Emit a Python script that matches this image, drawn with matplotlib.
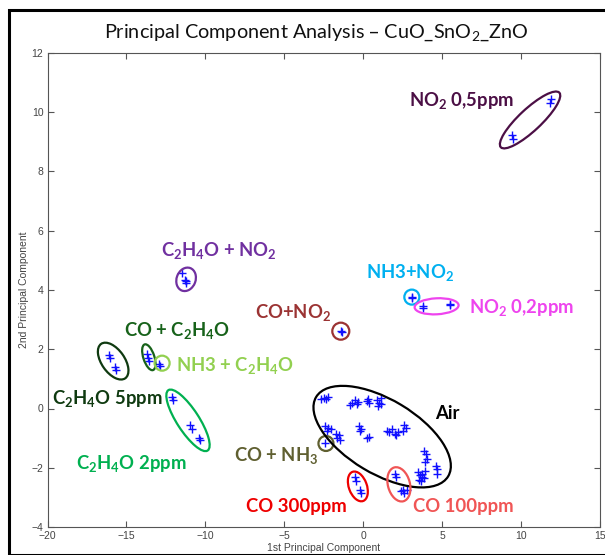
import matplotlib
matplotlib.use("Agg")
import matplotlib.pyplot as plt
from matplotlib.patches import Ellipse, Rectangle
from matplotlib.transforms import ScaledTranslation

plt.rcParams['mathtext.default'] = 'regular'

# ---------------- data (PC1, PC2 scores) ----------------
air_x = [-2.7, -2.5, -2.35, -2.2,
         -0.85, -0.7, -0.55, -0.4, -0.3,
         0.25, 0.3, 0.35,
         0.9, 1.0, 1.1, 1.15, 0.95,
         -2.4, -2.2, -2.05, -2.3,
         -1.7, -1.55, -1.65, -1.5,
         -0.25, -0.15, -0.2,
         0.25, 0.35,
         1.5, 1.65, 1.8, 2.0, 2.1, 2.2,
         2.6, 2.7, 2.55,
         3.85, 3.95, 4.05, 3.9,
         3.45, 3.6, 3.75, 3.85, 3.55, 3.7, 3.9, 3.65,
         4.6, 4.7, 4.65]
air_y = [0.33, 0.36, 0.32, 0.38,
         0.12, 0.2, 0.28, 0.15, 0.22,
         0.25, 0.32, 0.2,
         0.3, 0.2, 0.35, 0.15, 0.1,
         -0.6, -0.65, -0.7, -0.75,
         -0.85, -0.9, -1.0, -1.05,
         -0.6, -0.7, -0.75,
         -1.0, -0.95,
         -0.75, -0.8, -0.7, -0.85, -0.9, -0.8,
         -0.55, -0.65, -0.75,
         -1.45, -1.55, -1.7, -1.8,
         -2.15, -2.25, -2.2, -2.35, -2.4, -2.3, -2.1, -2.45,
         -1.95, -2.05, -2.2]

no2_05_x = [11.9, 11.85, 9.45, 9.48]
no2_05_y = [10.45, 10.3, 9.22, 9.1]
c2h4o_no2_x = [-11.46, -11.3, -11.2, -11.22]
c2h4o_no2_y = [4.57, 4.35, 4.22, 4.3]
co_no2_x = [-1.42, -1.35]
co_no2_y = [2.61, 2.58]
nh3_no2_x = [3.08, 3.1]
nh3_no2_y = [3.78, 3.74]
no2_02_x = [3.79, 3.8, 5.5, 5.52]
no2_02_y = [3.45, 3.4, 3.52, 3.5]
c2h4o_5_x = [-16.1, -16.05, -15.7, -15.68]
c2h4o_5_y = [1.8, 1.72, 1.4, 1.3]
co_c2h4o_x = [-13.7, -13.65, -13.6]
co_c2h4o_y = [1.85, 1.7, 1.6]
nh3_c2h4o_x = [-12.95, -12.9]
nh3_c2h4o_y = [1.5, 1.45]
c2h4o_2_x = [-12.1, -12.05, -10.95, -10.85, -10.4, -10.35]
c2h4o_2_y = [0.38, 0.28, -0.55, -0.7, -0.98, -1.08]
co_nh3_x = [-2.43]
co_nh3_y = [-1.18]
co_300_x = [-0.55, -0.45, -0.2, -0.15]
co_300_y = [-2.3, -2.45, -2.75, -2.85]
co_100_x = [2.0, 2.05, 2.4, 2.6, 2.75, 2.5]
co_100_y = [-2.2, -2.3, -2.8, -2.85, -2.75, -2.75]

x_ticks = [-20, -15, -10, -5, 0, 5, 10, 15]
y_ticks = [-4, -2, 0, 2, 4, 6, 8, 10, 12]

groups = [
    (air_x, air_y), (no2_05_x, no2_05_y), (c2h4o_no2_x, c2h4o_no2_y),
    (co_no2_x, co_no2_y), (nh3_no2_x, nh3_no2_y), (no2_02_x, no2_02_y),
    (c2h4o_5_x, c2h4o_5_y), (co_c2h4o_x, co_c2h4o_y),
    (nh3_c2h4o_x, nh3_c2h4o_y), (c2h4o_2_x, c2h4o_2_y),
    (co_nh3_x, co_nh3_y), (co_300_x, co_300_y), (co_100_x, co_100_y),
]

# group labels: text, anchor (data), colour
labels = [
    ('NO$_2$ 0,5ppm', 6.26, 10.41, '#4b0f45'),
    ('C$_2$H$_4$O + NO$_2$', -9.13, 5.34, '#7030a0'),
    ('CO+NO$_2$', -4.45, 3.25, '#9b3333'),
    ('NH3+NO$_2$', 2.96, 4.6, '#00b0f0'),
    ('NO$_2$ 0,2ppm', 10.04, 3.42, '#ee44ee'),
    ('CO + C$_2$H$_4$O', -11.79, 2.64, '#17621a'),
    ('NH3 + C$_2$H$_4$O', -8.15, 1.46, '#92d050'),
    ('C$_2$H$_4$O 5ppm', -16.2, 0.34, '#0f3a10'),
    ('C$_2$H$_4$O 2ppm', -14.7, -1.85, '#00b050'),
    ('CO + NH$_3$', -5.53, -1.58, '#5f5f30'),
    ('Air', 5.30, -0.16, '#000000'),
    ('CO 300ppm', -4.26, -3.30, '#ee0000'),
    ('CO 100ppm', 6.37, -3.30, '#f05555'),
]

# hand-drawn rings: centre (data), major/minor (px), angle (deg), colour
rings = [
    (10.57, 9.74, 80, 22, 43, '#4b0f45'),
    (-11.22, 4.36, 24, 19, 70, '#7030a0'),
    (-1.42, 2.61, 17, 17, 0, '#9b3333'),
    (3.08, 3.76, 15, 15, 0, '#00b0f0'),
    (4.65, 3.45, 44, 16, 3, '#ee44ee'),
    (-15.84, 1.6, 42, 23, -55, '#0f3a10'),
    (-13.58, 1.73, 27, 11, -72, '#17621a'),
    (-12.74, 1.53, 15, 15, 0, '#92d050'),
    (-11.1, -0.4, 72, 22, -57, '#00b050'),
    (-2.36, -1.18, 15, 15, 0, '#5f5f30'),
    (1.2, -0.95, 154, 74, -31, '#000000'),
    (-0.34, -2.63, 31, 18, -70, '#ee0000'),
    (2.26, -2.56, 35, 22, -75, '#f05555'),
]

# ---------------- figure ----------------
W, H = 605, 555
fig = plt.figure(figsize=(W / 100, H / 100), dpi=100)
fig.patch.set_facecolor('white')
fig.patches.append(Rectangle((9 / W, 0), 2, 1 - 10 / H, transform=fig.transFigure,
                             fill=False, ec='black', lw=2.2, zorder=0))

ax = fig.add_axes([47.5 / W, 1 - 527 / H, (600 - 47.5) / W, (527 - 53) / H])
for gx, gy in groups:
    ax.plot(gx, gy, ls='none', marker='+', ms=6, mew=1.0, color='#1010ff', zorder=3)

for cx, cy, w, h, ang, col in rings:
    tr = fig.dpi_scale_trans + ScaledTranslation(cx, cy, ax.transData)
    ax.add_patch(Ellipse((0, 0), w / 100, h / 100, angle=ang, transform=tr,
                         fill=False, ec=col, lw=1.6, zorder=4))

for txt, tx, ty, col in labels:
    ax.text(tx, ty, txt, color=col, fontsize=13.3, fontweight='bold', family='Lato',
            ha='center', va='center', zorder=5)

ax.set_xlim(-20, 15)
ax.set_ylim(-4, 12)
ax.set_xticks(x_ticks)
ax.set_yticks(y_ticks)
ax.tick_params(direction='in', top=True, right=True, length=4, width=0.8,
               color='#555555', labelsize=7.5, labelcolor='#444444', pad=3)
for lab in ax.get_xticklabels() + ax.get_yticklabels():
    lab.set_family('Liberation Sans')
for s in ax.spines.values():
    s.set_color('#555555')
    s.set_linewidth(0.8)
ax.set_xlabel('1st Principal Component', fontsize=7.5, color='#444444',
              family='Liberation Sans', labelpad=1)
ax.set_ylabel('2nd Principal Component', fontsize=7.5, color='#444444',
              family='Liberation Sans', labelpad=2)

fig.text(316 / W, 1 - 33 / H, 'Principal Component Analysis – CuO_SnO$_2$_ZnO',
         ha='center', va='center', fontsize=14.3, family='Lato', color='#111111')

fig.savefig('out.png', dpi=100)
